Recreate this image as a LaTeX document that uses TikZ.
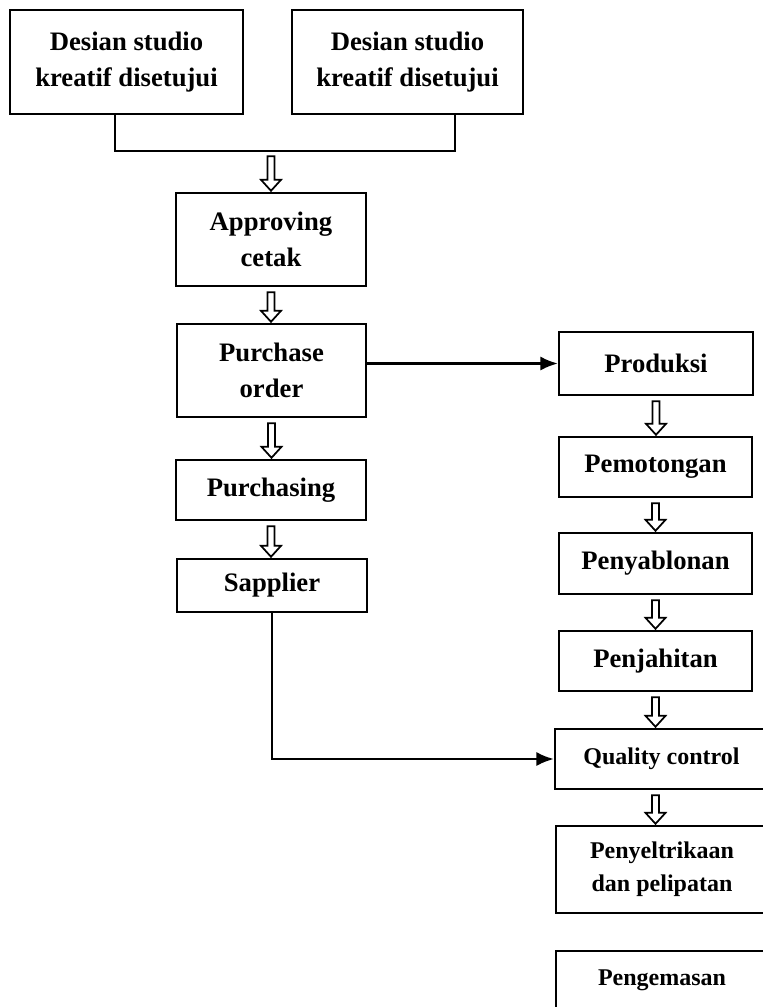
\documentclass[tikz,border=0pt]{standalone}
\usepackage{fontspec}
\setmainfont{Liberation Serif}
\usetikzlibrary{positioning,arrows.meta,calc}

% hollow block arrow between two stacked boxes
\newcommand{\harrow}[2]{%
  \draw[harr] ($(#1)+(-3.5,5)$) -- ($(#1 |- #2)+(-3.5,-12)$)
    -- ($(#1 |- #2)+(-10,-12)$) -- ($(#1 |- #2)+(0,-1)$)
    -- ($(#1 |- #2)+(10,-12)$) -- ($(#1 |- #2)+(3.5,-12)$)
    -- ($(#1)+(3.5,5)$) -- cycle;}

\begin{document}
\begin{tikzpicture}[
  x=0.75pt,y=-0.75pt,>=Latex,
  box/.style={draw,line width=1.8pt,inner sep=2pt,align=center,
              font=\bfseries\fontsize{20}{27}\selectfont},
  sbox/.style={box,font=\bfseries\fontsize{18}{25}\selectfont},
  conn/.style={line width=1.6pt},
  harr/.style={line width=1.3pt,fill=white,line join=miter},
]
  \useasboundingbox (0,0) rectangle (763,1007);
  \clip (0,0) rectangle (763,1007);

  % left column
  \node[box,minimum width=174.75pt,minimum height=78pt] (d1) at (126.5,62)
    {Desian studio\\kreatif disetujui};
  \node[box,minimum width=173.25pt,minimum height=78pt] (d2) at (407.5,62)
    {Desian studio\\kreatif disetujui};
  \node[box,minimum width=142.5pt,minimum height=69.75pt] (appr) at (271,239.5)
    {Approving\\cetak};
  \node[box,minimum width=141.75pt,minimum height=69.75pt] (po) at (271.5,370.5)
    {Purchase\\order};
  \node[box,minimum width=142.5pt,minimum height=45pt] (purch) at (271,490)
    {Purchasing};
  \node[box,minimum width=142.5pt,minimum height=39.75pt] (sapp) at (272,585.5)
    {Sapplier};

  % right column
  \node[box,minimum width=145.5pt,minimum height=47.25pt] (prod) at (656,363.5)
    {Produksi};
  \node[box,minimum width=144.75pt,minimum height=45pt] (pemo) at (655.5,467)
    {Pemotongan};
  \node[box,minimum width=144.75pt,minimum height=45.75pt] (peny) at (655.5,563.5)
    {Penyablonan};
  \node[box,minimum width=144.75pt,minimum height=45pt] (penj) at (655.5,661)
    {Penjahitan};
  \node[sbox,minimum width=159.75pt,minimum height=45pt] (qc) at (661.5,759)
    {Quality control};
  \node[sbox,minimum width=159pt,minimum height=65.25pt] (pset) at (662,869.5)
    {Penyeltrikaan\\dan pelipatan};
  \node[sbox,minimum width=159pt,minimum height=44.25pt] (peng) at (662,980.5)
    {Pengemasan};

  % joining the two designs
  \coordinate (jl) at ($(d1.south)+(-11.5,36)$);
  \coordinate (jr) at ($(d2.south)+(47.5,36)$);
  \draw[conn] (jl |- d1.south) -- (jl) -- (jr) -- (jr |- d2.south);
  \coordinate (jm) at (appr.north |- jl);

  \harrow{jm}{appr.north}
  \harrow{appr.south}{po.north}
  \harrow{po.south}{purch.north}
  \harrow{purch.south}{sapp.north}
  \harrow{prod.south}{pemo.north}
  \harrow{pemo.south}{peny.north}
  \harrow{peny.south}{penj.north}
  \harrow{penj.south}{qc.north}
  \harrow{penj.south |- qc.south}{pset.north}

  \draw[conn,-{Latex[length=13pt,width=10.5pt]}] (po.east |- prod.west) -- (prod.west);
  \draw[conn,-{Latex[length=13pt,width=10.5pt]}] (sapp.south) |- (qc.west);
\end{tikzpicture}
\end{document}
